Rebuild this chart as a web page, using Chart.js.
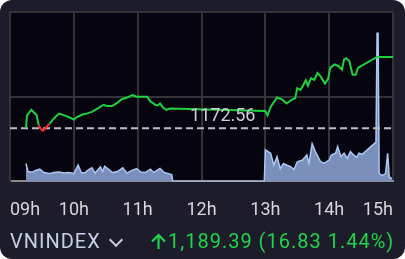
<!DOCTYPE html>
<html>
<head>
<meta charset="utf-8">
<script src="https://cdn.jsdelivr.net/npm/chart.js@4"></script>
<style>
  html, body { margin: 0; padding: 0; background: #fff; }
  #card {
    position: absolute; left: 0; top: 0; width: 405px; height: 259px;
    background: #1d1c2a; border-radius: 12px; overflow: hidden;
    font-family: Roboto, "Noto Sans", sans-serif;
  }
  #wrap { position: absolute; left: 0; top: 0; width: 405px; height: 239px; }
  #refLabel {
    position: absolute; font-size: 18px; color: #cfcfd4;
    transform: translate(-50%, -50%); white-space: nowrap;
  }
  #ticker {
    position: absolute; left: 10px; top: 229px; font-size: 20px; color: #c5d0e6;
    letter-spacing: 1px;
  }
  #chev {
    position: absolute; left: 111px; top: 235px; width: 8px; height: 8px;
    border-right: 2px solid #c5d0e6; border-bottom: 2px solid #c5d0e6;
    transform: rotate(45deg);
  }
  #arrow { position: absolute; left: 150px; top: 233px; }
  #change {
    position: absolute; left: 168px; top: 229px; font-size: 20px; color: #1ed44a;
    white-space: nowrap; letter-spacing: 1px;
  }
</style>
</head>
<body>
<div id="card">
  <div id="wrap"><canvas id="chartIdx"></canvas></div>
  <div id="refLabel">1172.56</div>
  <div id="ticker">VNINDEX</div>
  <div id="chev"></div>
  <svg id="arrow" width="17" height="17" viewBox="0 0 17 17">
    <path d="M8.5 16 V2 M2 8.5 L8.5 2 L15 8.5" stroke="#1ed44a" stroke-width="2.2" fill="none"/>
  </svg>
  <div id="change">1,189.39 (16.83 1.44%)</div>
</div>
<script>
// minutes after 09:00
const tickLabels = ['09h', '10h', '11h', '12h', '13h', '14h', '15h'];
const refClose = 1172.56;

const priceTimes = [15, 16, 20, 22, 25, 27, 29, 31, 33, 37, 41, 46, 51, 55, 60, 63, 68, 72, 77, 83,
  88, 91, 96, 101, 105, 110, 115, 119, 124, 129, 130, 132, 134, 137, 139, 141, 144, 147, 150,
  240, 242, 245, 251, 256, 260, 265, 268, 270, 273, 275, 278, 280, 283, 286, 289, 292, 296, 299,
  301, 305, 309, 312, 314, 316, 319, 322, 325, 327, 345, 360];
const priceValues = [1172.6, 1175.6, 1176.9, 1176.4, 1175.7, 1173.2, 1172.4, 1172.0, 1172.5, 1173.6,
  1174.8, 1176.0, 1175.6, 1175.2, 1174.6, 1175.2, 1175.8, 1176.0, 1176.4, 1177.3,
  1178.1, 1177.8, 1177.8, 1178.6, 1179.4, 1179.8, 1180.4, 1180.0, 1180.0, 1180.0, 1179.6, 1178.8,
  1178.6, 1178.0, 1178.0, 1178.4, 1177.4, 1176.9, 1177.2,
  1176.6, 1175.6, 1177.6, 1179.8, 1179.3, 1178.4, 1179.3, 1179.6, 1182.0, 1181.6, 1182.4, 1183.9,
  1182.6, 1184.4, 1184.0, 1185.6, 1184.8, 1183.1, 1184.2,
  1186.8, 1187.6, 1187.2, 1186.4, 1188.8, 1189.1, 1188.4, 1185.2, 1185.2, 1186.8, 1189.39, 1189.39];

const volTimes = [15, 17, 21, 24, 28, 32, 37, 41, 46, 51, 55, 60, 64, 67, 70, 74, 77, 80, 85, 87,
  89, 93, 96, 101, 106, 110, 114, 119, 123, 127, 132, 135, 141, 145, 149, 152, 153,
  239, 240, 245, 248, 251, 254, 257, 264, 267, 270, 275, 279, 281, 284, 287, 292, 295, 300, 302,
  306, 308, 311, 314, 317, 320, 323, 326, 328, 331, 344, 345, 346, 347, 350, 353, 355, 356.5, 359];
const volValues = [10.6, 5.8, 5.4, 6.4, 7.2, 5.2, 4.6, 5.2, 5.5, 4.9, 5.2, 4.6, 9.6, 5.2, 4.9, 7.0,
  8.0, 4.9, 8.6, 5.8, 9.0, 7.0, 5.2, 5.8, 8.0, 4.9, 6.4, 7.6, 5.5, 5.2, 7.2, 5.2, 7.6, 5.2, 4.6, 4.0, 0,
  0, 18.6, 16.6, 9.6, 14.6, 7.6, 10.6, 8.6, 7.0, 11.6, 12.6, 15.6, 10.6, 22.2, 17.6, 11.6, 10.6, 12.6,
  15.6, 16.6, 20.6, 14.6, 16.6, 13.6, 17.6, 15.6, 14.2, 16.6, 16.0, 23.2, 87.4, 87.4, 4.6, 3.6, 4.6,
  16.6, 2.6, 1.6];

const green = '#1fd13e';
const red = '#ff2a2a';

const pricePts = priceTimes.map((t, i) => ({ x: t, y: priceValues[i] }));
const volPts = volTimes.map((t, i) => ({ x: t, y: volValues[i] }));
const refPts = [{ x: 0, y: refClose }, { x: 360, y: refClose }];

const areaBg = {
  id: 'areaBg',
  beforeDraw(chart) {
    const { ctx, chartArea: a } = chart;
    ctx.save();
    ctx.fillStyle = '#05040f';
    ctx.fillRect(a.left, a.top, a.right - a.left, a.bottom - a.top);
    ctx.restore();
  },
  afterRender(chart) {
    const lbl = document.getElementById('refLabel');
    lbl.style.left = chart.scales.x.getPixelForValue(200) + 'px';
    lbl.style.top = (chart.scales.y.getPixelForValue(refClose) - 14) + 'px';
  }
};

new Chart('chartIdx', {
  type: 'line',
  data: {
    datasets: [
      {
        data: pricePts,
        yAxisID: 'y',
        borderColor: green,
        borderWidth: 2,
        pointRadius: 0,
        tension: 0,
        order: 1,
        segment: {
          borderColor: c => (c.p0.parsed.y < refClose || c.p1.parsed.y < refClose) ? red : green
        }
      },
      {
        data: refPts,
        yAxisID: 'y',
        borderColor: '#bdbdc2',
        borderWidth: 2,
        borderDash: [7, 4],
        pointRadius: 0,
        order: 2
      },
      {
        data: volPts,
        yAxisID: 'yVol',
        borderColor: '#a9c6f4',
        borderWidth: 1.5,
        backgroundColor: '#7a8fb9',
        fill: 'origin',
        pointRadius: 0,
        tension: 0,
        order: 3
      }
    ]
  },
  options: {
    responsive: true,
    maintainAspectRatio: false,
    animation: false,
    layout: { padding: { left: 10, right: 12, top: 12, bottom: 0 } },
    plugins: { legend: { display: false }, tooltip: { enabled: false } },
    scales: {
      x: {
        type: 'linear',
        min: 0,
        max: 360,
        afterBuildTicks: s => { s.ticks = tickLabels.map((l, i) => ({ value: i * 60 })); },
        afterFit: s => { s.paddingLeft = 0; s.paddingRight = 0; },
        ticks: {
          callback: (v) => tickLabels[Math.round(v / 60)],
          align: 'inner',
          maxRotation: 0,
          autoSkip: false,
          color: '#d6d6da',
          padding: 18,
          font: { family: 'Roboto', size: 18 }
        },
        grid: { color: '#343438', lineWidth: 2, drawTicks: false },
        border: { color: '#8c8c90', width: 2 }
      },
      y: {
        min: 1160,
        max: 1200,
        ticks: { display: false, stepSize: 20 },
        grid: { color: '#343438', lineWidth: 2, drawTicks: false },
        border: { color: '#343438', width: 2 }
      },
      yVol: {
        display: false,
        min: 0,
        max: 100
      }
    }
  },
  plugins: [areaBg]
});
</script>
</body>
</html>
